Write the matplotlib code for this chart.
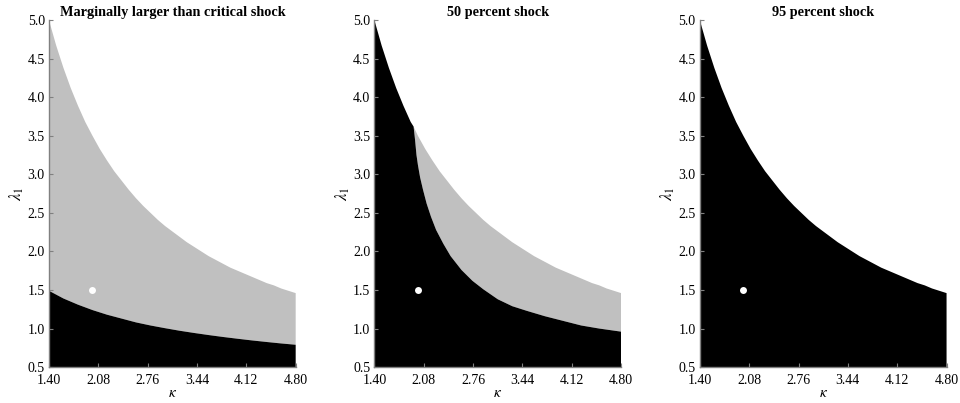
import matplotlib
matplotlib.use("Agg")
import matplotlib.pyplot as plt
import numpy as np

plt.rcParams['font.family'] = ['Liberation Serif', 'DejaVu Serif']
plt.rcParams['mathtext.fontset'] = 'stix'

# upper edge of the plotted region (same in all three panels)
kappa_top = [1.4, 1.5, 1.6, 1.7, 1.8, 1.9, 2.0, 2.1, 2.2, 2.3, 2.4, 2.5,
             2.6, 2.7, 2.8, 2.9, 3.0, 3.1, 3.2, 3.3, 3.4, 3.5, 3.6, 3.7,
             3.8, 3.9, 4.0, 4.1, 4.2, 4.3, 4.4, 4.5, 4.6, 4.7, 4.8]
lambda_top = [5.00, 4.67, 4.38, 4.12, 3.89, 3.68, 3.50, 3.33, 3.18, 3.04, 2.92, 2.80,
              2.69, 2.59, 2.50, 2.41, 2.33, 2.26, 2.19, 2.12, 2.06, 2.00, 1.94, 1.89,
              1.84, 1.79, 1.75, 1.71, 1.67, 1.63, 1.59, 1.56, 1.52, 1.49, 1.46]

# panel 1: top of the black region
kappa_p1 = [1.4, 1.6, 1.8, 2.0, 2.2, 2.4, 2.6, 2.8, 3.0, 3.2, 3.4,
            3.6, 3.8, 4.0, 4.2, 4.4, 4.6, 4.8]
lambda_p1 = [1.49, 1.39, 1.31, 1.24, 1.18, 1.13, 1.08, 1.04, 1.005, 0.972, 0.943,
             0.916, 0.891, 0.868, 0.846, 0.826, 0.807, 0.79]

# panel 2: top of the black region once it leaves the upper edge
kappa_p2 = [1.94, 1.96, 1.98, 2.00, 2.03, 2.07, 2.12, 2.18, 2.25, 2.35, 2.45,
            2.60, 2.75, 2.90, 3.10, 3.30, 3.50, 3.75, 4.00, 4.25, 4.50, 4.80]
lambda_p2 = [3.62, 3.45, 3.25, 3.12, 2.96, 2.80, 2.62, 2.45, 2.28, 2.10, 1.94,
             1.76, 1.62, 1.51, 1.38, 1.29, 1.23, 1.16, 1.10, 1.04, 1.00, 0.96]

# calibrated point
kappa_dot = 2.00
lambda_dot = 1.50

titles = ['Marginally larger than critical shock', '50 percent shock', '95 percent shock']
xticks = [1.40, 2.08, 2.76, 3.44, 4.12, 4.80]
yticks = [0.5, 1.0, 1.5, 2.0, 2.5, 3.0, 3.5, 4.0, 4.5, 5.0]

grey = '#c0c0c0'
fig = plt.figure(figsize=(9.6, 4.03), dpi=100)
lefts = [0.051, 0.390, 0.729]

kt = np.array(kappa_top)
lt = np.array(lambda_top)

for i, left in enumerate(lefts):
    ax = fig.add_axes([left, 0.089, 0.257, 0.861])

    if i == 0:
        ax.fill(np.concatenate([kt, kappa_p1[::-1]]),
                np.concatenate([lt, lambda_p1[::-1]]),
                color=grey, lw=0)
        ax.fill(np.concatenate([kappa_p1, [4.80, 1.40]]),
                np.concatenate([lambda_p1, [0.5, 0.5]]),
                color='black', lw=0)
    elif i == 1:
        m = kt > kappa_p2[0]
        ax.fill(np.concatenate([[kappa_p2[0]], kt[m], kappa_p2[::-1]]),
                np.concatenate([[lambda_p2[0]], lt[m], lambda_p2[::-1]]),
                color=grey, lw=0)
        m = kt < kappa_p2[0]
        ax.fill(np.concatenate([[1.40], kt[m], kappa_p2, [4.80]]),
                np.concatenate([[0.5], lt[m], lambda_p2, [0.5]]),
                color='black', lw=0)
    else:
        ax.fill(np.concatenate([[1.40], kt, [4.80]]),
                np.concatenate([[0.5], lt, [0.5]]),
                color='black', lw=0)

    ax.plot(kappa_dot, lambda_dot, 'o', color='white', ms=5, mew=0)

    ax.set_xlim(1.40, 4.80)
    ax.set_ylim(0.5, 5.0)
    ax.set_xticks(xticks)
    ax.set_xticklabels(['%.2f' % v for v in xticks])
    ax.set_yticks(yticks)
    ax.set_yticklabels(['%.1f' % v for v in yticks])
    ax.tick_params(direction='in', length=3, color='#808080', labelsize=10)
    ax.tick_params(axis='x', pad=5)
    ax.tick_params(axis='y', pad=3)
    for s in ['top', 'right']:
        ax.spines[s].set_visible(False)
    for s in ['left', 'bottom']:
        ax.spines[s].set_color('#808080')
        ax.spines[s].set_linewidth(1.0)
    ax.set_title(titles[i], fontsize=10.3, fontweight='bold', pad=3)
    ax.set_xlabel(r'$\kappa$', fontsize=11, labelpad=0)
    ax.set_ylabel(r'$\lambda_1$', fontsize=12, labelpad=1)

fig.savefig('out.png', dpi=100)
